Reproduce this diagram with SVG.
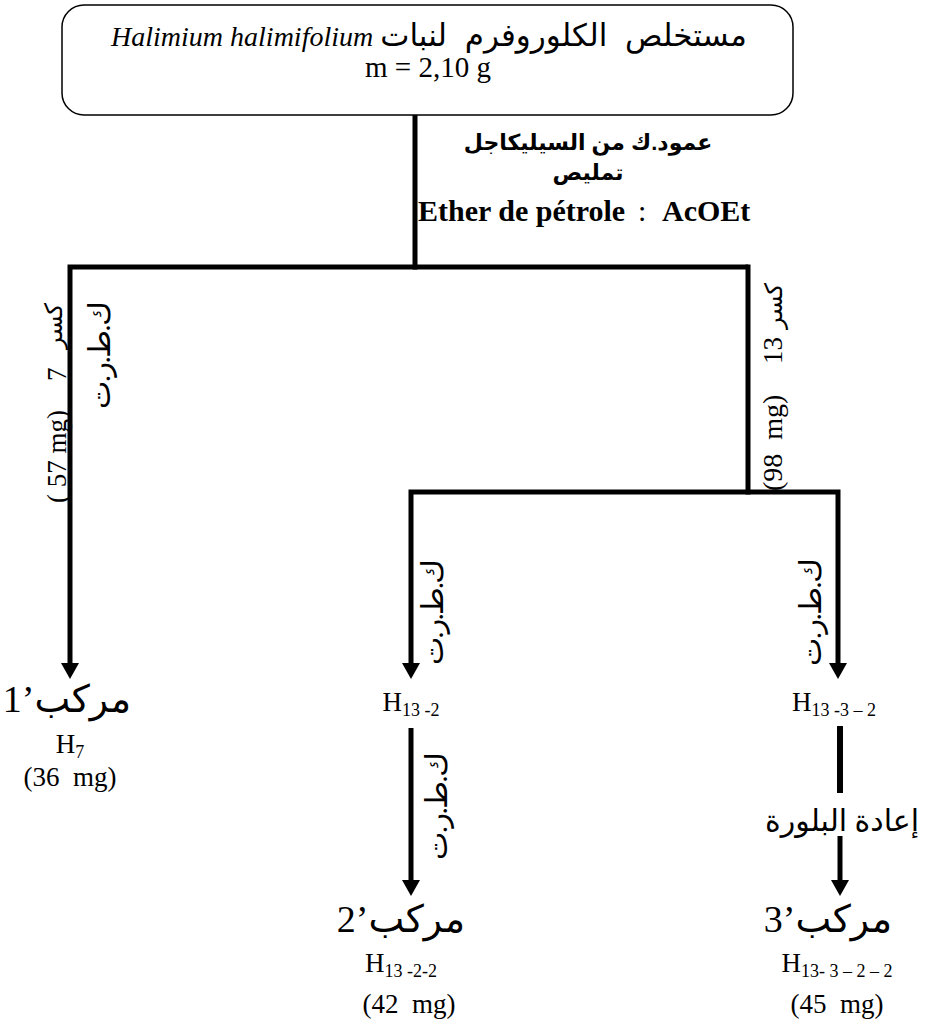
<svg xmlns="http://www.w3.org/2000/svg" width="930" height="1019" viewBox="0 0 930 1019">
<defs>
<marker id="arr" markerUnits="userSpaceOnUse" markerWidth="18" markerHeight="18" viewBox="0 0 16 18" refX="0" refY="9" orient="auto"><path d="M0,0 L16,9 L0,18 Z" fill="#000"/></marker>
</defs>
<style>
.ln{fill:none;stroke:#000;stroke-width:5;stroke-linecap:square;stroke-linejoin:miter}
.la{fill:none;stroke:#000;stroke-width:5;stroke-linecap:butt;stroke-linejoin:miter;marker-end:url(#arr)}
.t{font-family:"Liberation Serif","DejaVu Sans",serif;fill:#000}
.b{font-family:"Liberation Sans","DejaVu Sans",sans-serif;font-weight:bold;fill:#000}
.c{text-anchor:middle}
.box{fill:#fff;stroke:#000;stroke-width:1.5}
</style>
<rect width="930" height="1019" fill="#fff"/>
<g id="connectors">
<path class="ln" d="M415,115 V267"/>
<path class="la" d="M748,267 H70 V663"/>
<path class="ln" d="M748,267 V492"/>
<path class="la" d="M748,492 H411 V663"/>
<path class="la" d="M748,492 H838 V663"/>
<path class="la" d="M411,728 V880"/>
<path class="ln" d="M840,729 V790" style="stroke-width:6"/>
<path class="la" d="M840,836 V880"/>
</g>
<g id="extract">
<rect class="box" x="62" y="5" width="731" height="110" rx="22"/>
<text class="t c" x="429" y="46" font-size="28"><tspan font-style="italic">Halimium halimifolium</tspan> <tspan font-size="31" word-spacing="10">مستخلص الكلوروفرم لنبات</tspan></text>
<text class="t c" x="428" y="77" font-size="29">m = 2,10 g</text>
</g>
<g id="elution-label">
<text class="b c" x="588" y="150" font-size="22">عمود.ك من السيليكاجل</text>
<text class="b c" x="588" y="180" font-size="22">تمليص</text>
<text class="t" y="221" font-size="30" font-weight="bold"><tspan x="418">Ether de pétrole</tspan><tspan x="638" font-weight="normal">:</tspan><tspan x="662">AcOEt</tspan></text>
</g>
<g id="fraction7-label" transform="translate(66,0) rotate(-90)">
<text class="t" x="-503" y="0" font-size="27" xml:space="preserve">( 57 mg)</text>
<text class="t" x="-381" y="0" font-size="27">7</text>
<text class="t" x="-303" y="-4" font-size="24" text-anchor="end">كسر</text>
</g>
<g id="fraction13-label" transform="translate(782,0) rotate(-90)">
<text class="t" x="-491" y="0" font-size="28" xml:space="preserve">(98  mg)</text>
<text class="t" x="-364" y="0" font-size="27">13</text>
<text class="t" x="-283" y="0" font-size="24" text-anchor="end">كسر</text>
</g>
<g id="ptlc-labels">
<text class="t c" font-size="30" transform="translate(110,355) rotate(-90)" textLength="108" lengthAdjust="spacing">ك.ط.ر.ت</text>
<text class="t c" font-size="30" transform="translate(443,612) rotate(-90)" textLength="106" lengthAdjust="spacing">ك.ط.ر.ت</text>
<text class="t c" font-size="30" transform="translate(821,612) rotate(-90)" textLength="108" lengthAdjust="spacing">ك.ط.ر.ت</text>
<text class="t c" font-size="30" transform="translate(447,806) rotate(-90)" textLength="108" lengthAdjust="spacing">ك.ط.ر.ت</text>
</g>
<g id="compound1">
<text class="t c" x="67" y="712" font-size="38">1’مركب</text>
<text class="t c" x="70" y="753" font-size="27">H<tspan font-size="18" dy="5">7</tspan></text>
<text class="t c" x="70" y="786" font-size="27" xml:space="preserve">(36  mg)</text>
</g>
<g id="H13-2">
<text class="t c" x="411" y="711" font-size="27" xml:space="preserve">H<tspan font-size="18" dy="5">13 -2</tspan></text>
</g>
<g id="H13-3-2">
<text class="t c" x="834" y="711" font-size="27" xml:space="preserve">H<tspan font-size="18" dy="5">13 -3 – 2</tspan></text>
</g>
<g id="recrystallization">
<text class="t c" x="842" y="831" font-size="30">إعادة البلورة</text>
</g>
<g id="compound2">
<text class="t c" x="401" y="932" font-size="38">2’مركب</text>
<text class="t c" x="401" y="972" font-size="27" xml:space="preserve">H<tspan font-size="18" dy="5">13 -2-2</tspan></text>
<text class="t c" x="409" y="1013" font-size="27" xml:space="preserve">(42  mg)</text>
</g>
<g id="compound3">
<text class="t c" x="828" y="932" font-size="38">3’مركب</text>
<text class="t c" x="837" y="972" font-size="27" xml:space="preserve">H<tspan font-size="18" dy="5">13- 3 – 2 – 2</tspan></text>
<text class="t c" x="837" y="1013" font-size="27" xml:space="preserve">(45  mg)</text>
</g>
</svg>
